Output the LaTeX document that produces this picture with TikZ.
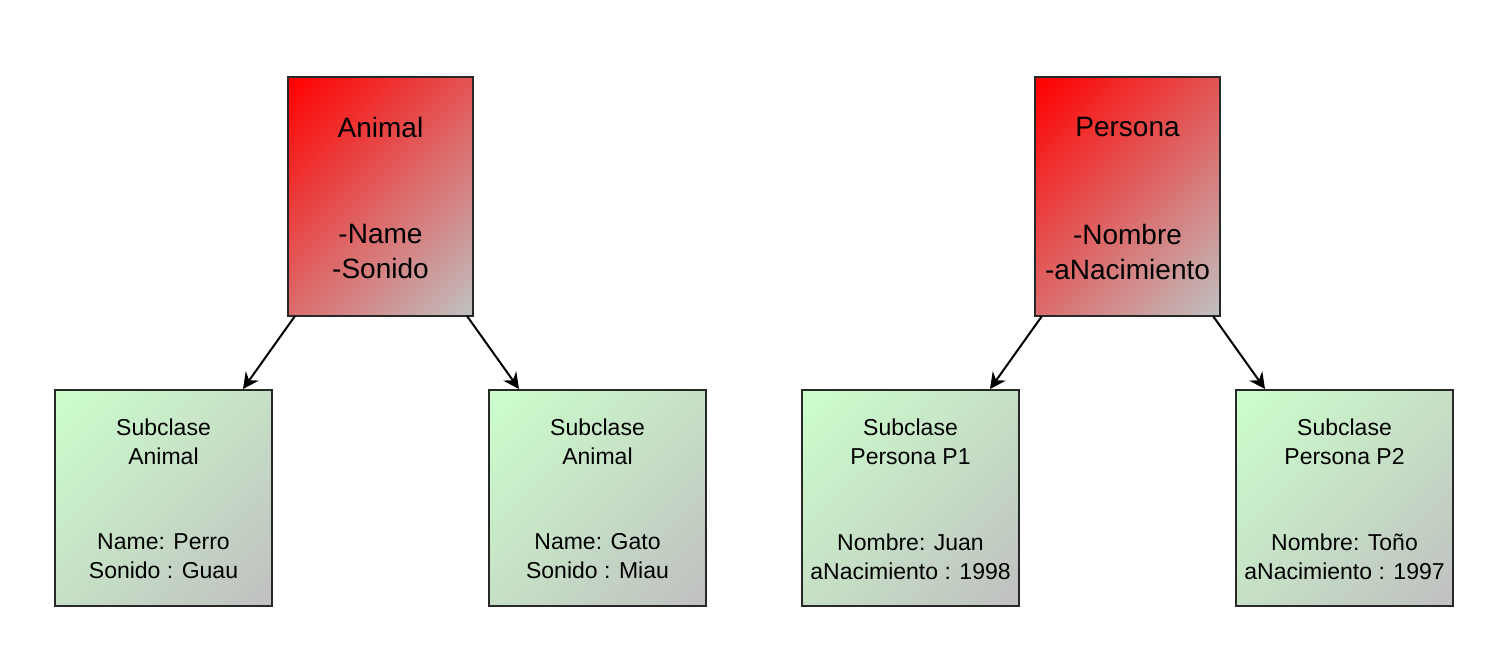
\documentclass[tikz,border=0pt]{standalone}
\usepackage{fontspec}
\setmainfont{Liberation Sans}
\usetikzlibrary{calc,arrows.meta}
\definecolor{topred}{RGB}{255,0,0}
\definecolor{endgray}{RGB}{192,192,192}
\definecolor{lightgreen}{RGB}{204,255,204}
\definecolor{edge}{RGB}{40,40,40}
\pgfdeclareverticalshading{redgrad}{100bp}{color(0bp)=(endgray); color(15bp)=(endgray); color(85bp)=(topred); color(100bp)=(topred)}
\pgfdeclareverticalshading{greengrad}{100bp}{color(0bp)=(endgray); color(15bp)=(endgray); color(85bp)=(lightgreen); color(100bp)=(lightgreen)}
\tikzset{
  parentbox/.style={rectangle, draw=edge, line width=1.1pt, inner sep=0pt, outer sep=0pt,
    minimum width=138.75pt, minimum height=179.25pt,
    shading=redgrad, shading angle=45},
  childbox/.style={rectangle, draw=edge, line width=1.1pt, inner sep=0pt, outer sep=0pt,
    minimum width=162.75pt, minimum height=162pt,
    shading=greengrad, shading angle=45},
  bigtext/.style={align=center, inner sep=0pt, font=\fontsize{21}{26.25}\selectfont},
  smalltext/.style={align=center, inner sep=0pt, font=\fontsize{17.25}{21.75}\selectfont},
  arr/.style={draw=black, line width=1.5pt, -{Stealth[length=12pt,width=12pt,inset=4pt]}}
}
\begin{document}
\begin{tikzpicture}[x=0.75pt,y=-0.75pt]
\useasboundingbox[fill=white] (0,0) rectangle (1504,658);
% parent boxes
\node[parentbox] (animal) at (380.5,196.5) {};
\node[parentbox] (persona) at (1127.5,196.5) {};
% child boxes
\node[childbox] (perro) at (163.5,498) {};
\node[childbox] (gato) at (597.5,498) {};
\node[childbox] (juan) at (910.5,498) {};
\node[childbox] (tono) at (1344.5,498) {};
% parent texts
\node[bigtext] (animalT) at ($(animal.north)+(0,50)$) {Animal};
\node[bigtext] (animalA) at ($(animal.north)+(0,174.5)$) {-Name\\-Sonido};
\node[bigtext] (personaT) at ($(persona.north)+(0,50)$) {Persona};
\node[bigtext] (personaA) at ($(persona.north)+(0,174.5)$) {-Nombre\\-aNacimiento};
% child texts
\node[smalltext] (perroT) at ($(perro.north)+(0,51.5)$) {Subclase\\Animal};
\node[smalltext] (perroA) at ($(perro.north)+(0,166.5)$) {Name: Perro\\Sonido : Guau};
\node[smalltext] (gatoT) at ($(gato.north)+(0,51.5)$) {Subclase\\Animal};
\node[smalltext] (gatoA) at ($(gato.north)+(0,166.5)$) {Name: Gato\\Sonido : Miau};
\node[smalltext] (juanT) at ($(juan.north)+(0,51.5)$) {Subclase\\Persona P1};
\node[smalltext] (juanA) at ($(juan.north)+(0,166.5)$) {Nombre: Juan\\aNacimiento : 1998};
\node[smalltext] (tonoT) at ($(tono.north)+(0,51.5)$) {Subclase\\Persona P2};
\node[smalltext] (tonoA) at ($(tono.north)+(0,166.5)$) {Nombre: Toño\\aNacimiento : 1997};
% connectors
\draw[arr] ($(animal.south west)+(7,0)$) -- ($(perro.north)+(79.5,-1)$);
\draw[arr] ($(animal.south east)+(-6,0)$) -- ($(gato.north)+(-78.5,-1)$);
\draw[arr] ($(persona.south west)+(7,0)$) -- ($(juan.north)+(79.5,-1)$);
\draw[arr] ($(persona.south east)+(-7,0)$) -- ($(tono.north)+(-79.5,-1)$);
\end{tikzpicture}
\end{document}
